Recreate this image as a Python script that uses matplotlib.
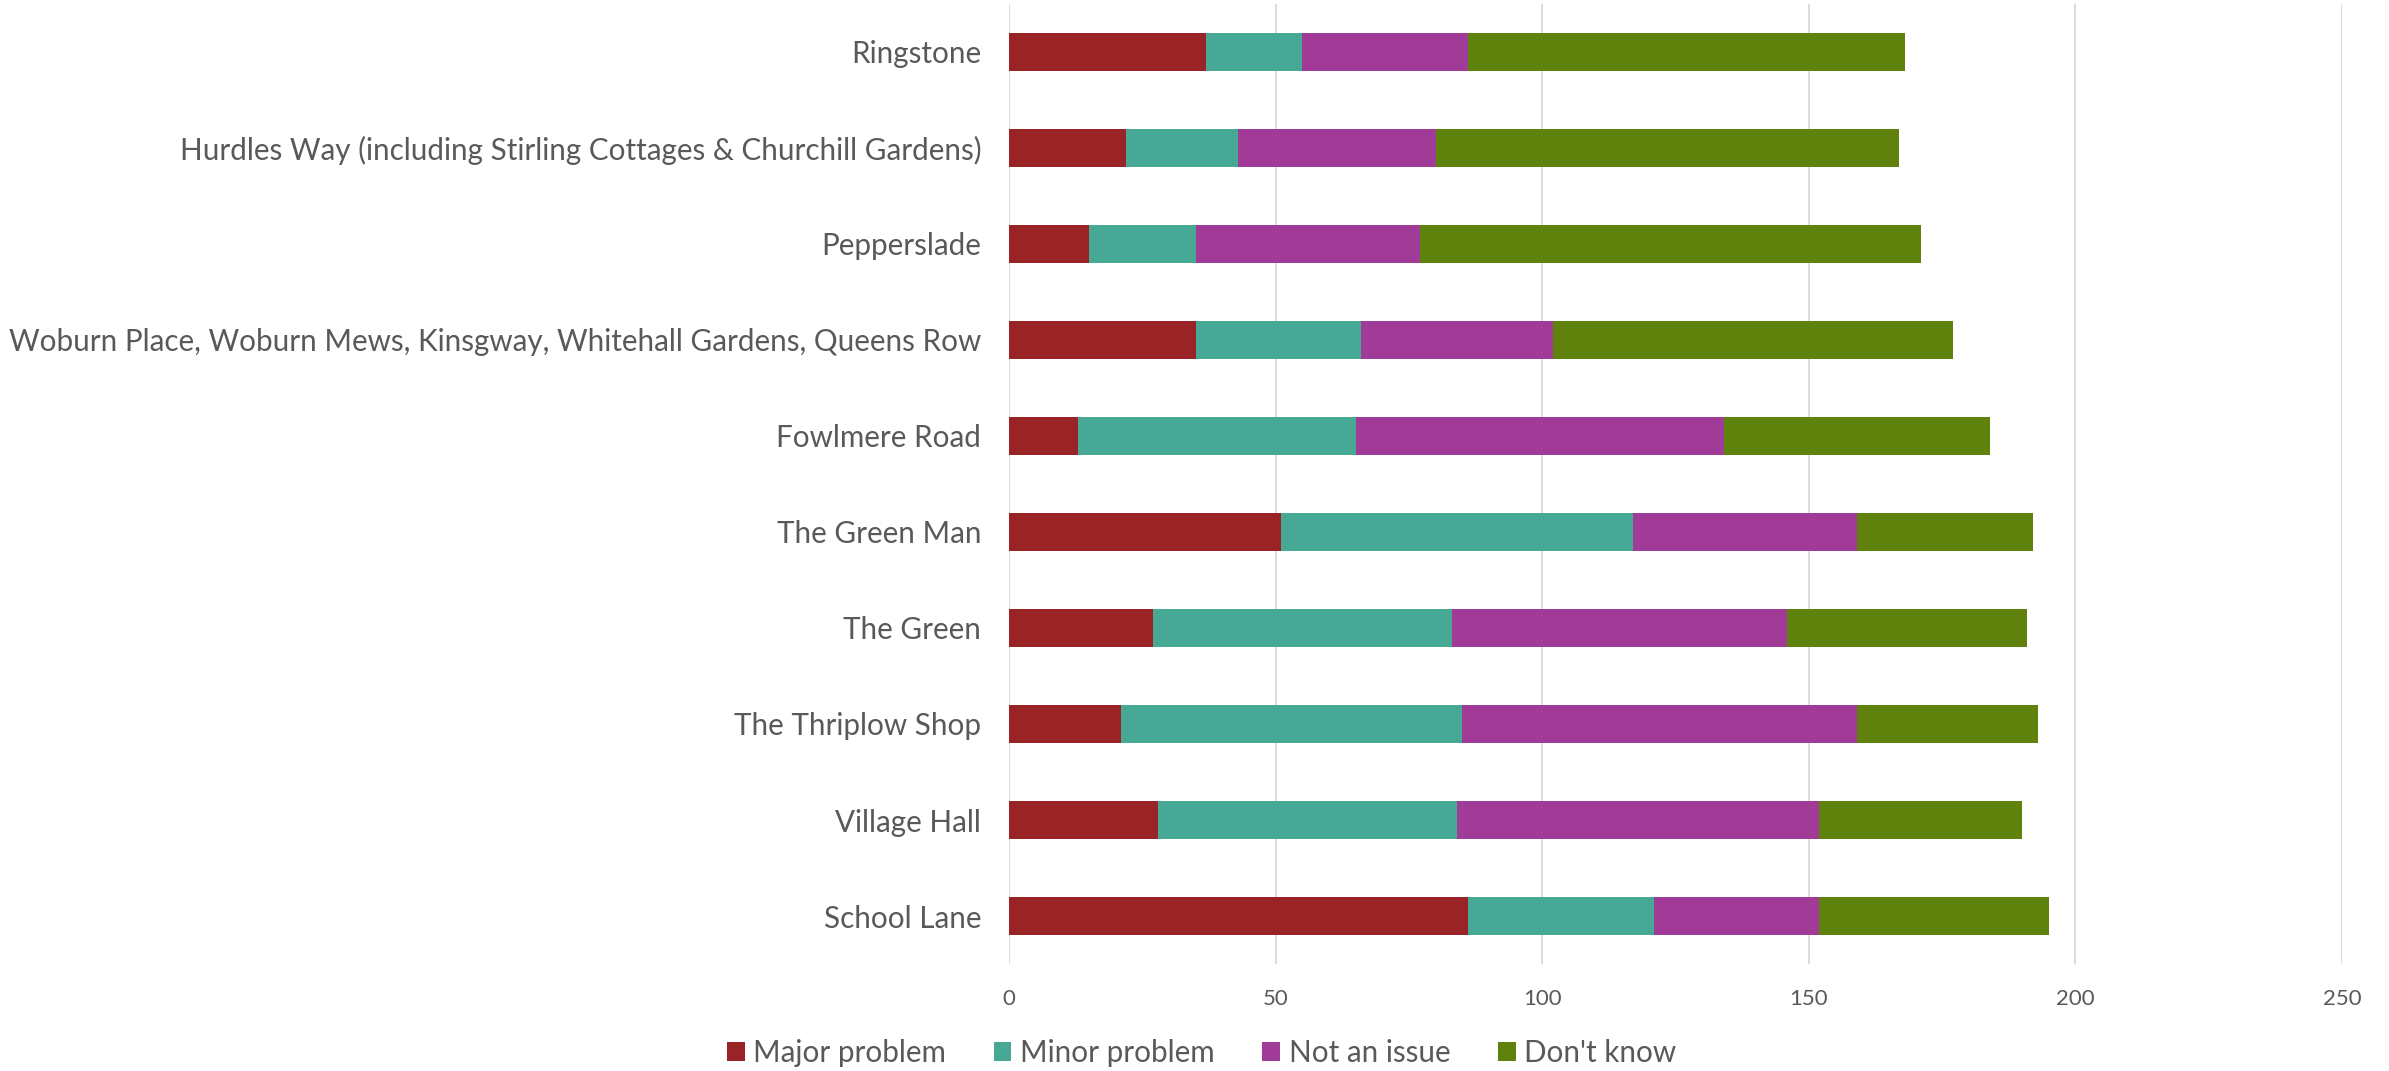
import numpy as np
import matplotlib
matplotlib.use('Agg')
import matplotlib.pyplot as plt

plt.rcParams['font.family'] = ['Lato', 'DejaVu Sans']

# categories listed top to bottom as shown in the chart
places = ['Ringstone',
          'Hurdles Way (including Stirling Cottages & Churchill Gardens)',
          'Pepperslade',
          'Woburn Place, Woburn Mews, Kinsgway, Whitehall Gardens, Queens Row',
          'Fowlmere Road',
          'The Green Man',
          'The Green',
          'The Thriplow Shop',
          'Village Hall',
          'School Lane']

major = [37, 22, 15, 35, 13, 51, 27, 21, 28, 86]
minor = [18, 21, 20, 31, 52, 66, 56, 64, 56, 35]
not_issue = [31, 37, 42, 36, 69, 42, 63, 74, 68, 31]
dont_know = [82, 87, 94, 75, 50, 33, 45, 34, 38, 43]

series_names = ['Major problem', 'Minor problem', 'Not an issue', "Don't know"]
colours = ['#9A2326', '#47A896', '#A03B97', '#5E820B']
text_col = '#595959'

fig = plt.figure(figsize=(23.89, 10.71), dpi=100)
ax = fig.add_axes([0.4224, 0.0999, 0.5579, 0.8964])

y = np.arange(len(places))[::-1]
left = np.zeros(len(places))
for vals, name, col in zip([major, minor, not_issue, dont_know], series_names, colours):
    vals = np.array(vals, dtype=float)
    ax.barh(y, vals, left=left, height=0.4, color=col, label=name, zorder=3)
    left += vals

ax.set_xlim(0, 250)
ax.set_ylim(-0.5, len(places) - 0.5)
ax.set_xticks([0, 50, 100, 150, 200, 250])
ax.set_yticks(y)
ax.set_yticklabels(places)
ax.grid(axis='x', color='#D9D9D9', linewidth=1.3, zorder=0)
for s in ax.spines.values():
    s.set_visible(False)
ax.tick_params(axis='y', length=0, pad=20, labelsize=21.3, labelcolor=text_col)
ax.tick_params(axis='x', length=0, pad=18, labelsize=16, labelcolor=text_col)

fig.legend(loc='center', bbox_to_anchor=(0.503, 0.017), ncol=4, frameon=False,
           fontsize=21.3, labelcolor=text_col, handlelength=0.6, handleheight=0.6,
           handletextpad=0.3, columnspacing=1.6)

fig.savefig('out.png', dpi=100)
